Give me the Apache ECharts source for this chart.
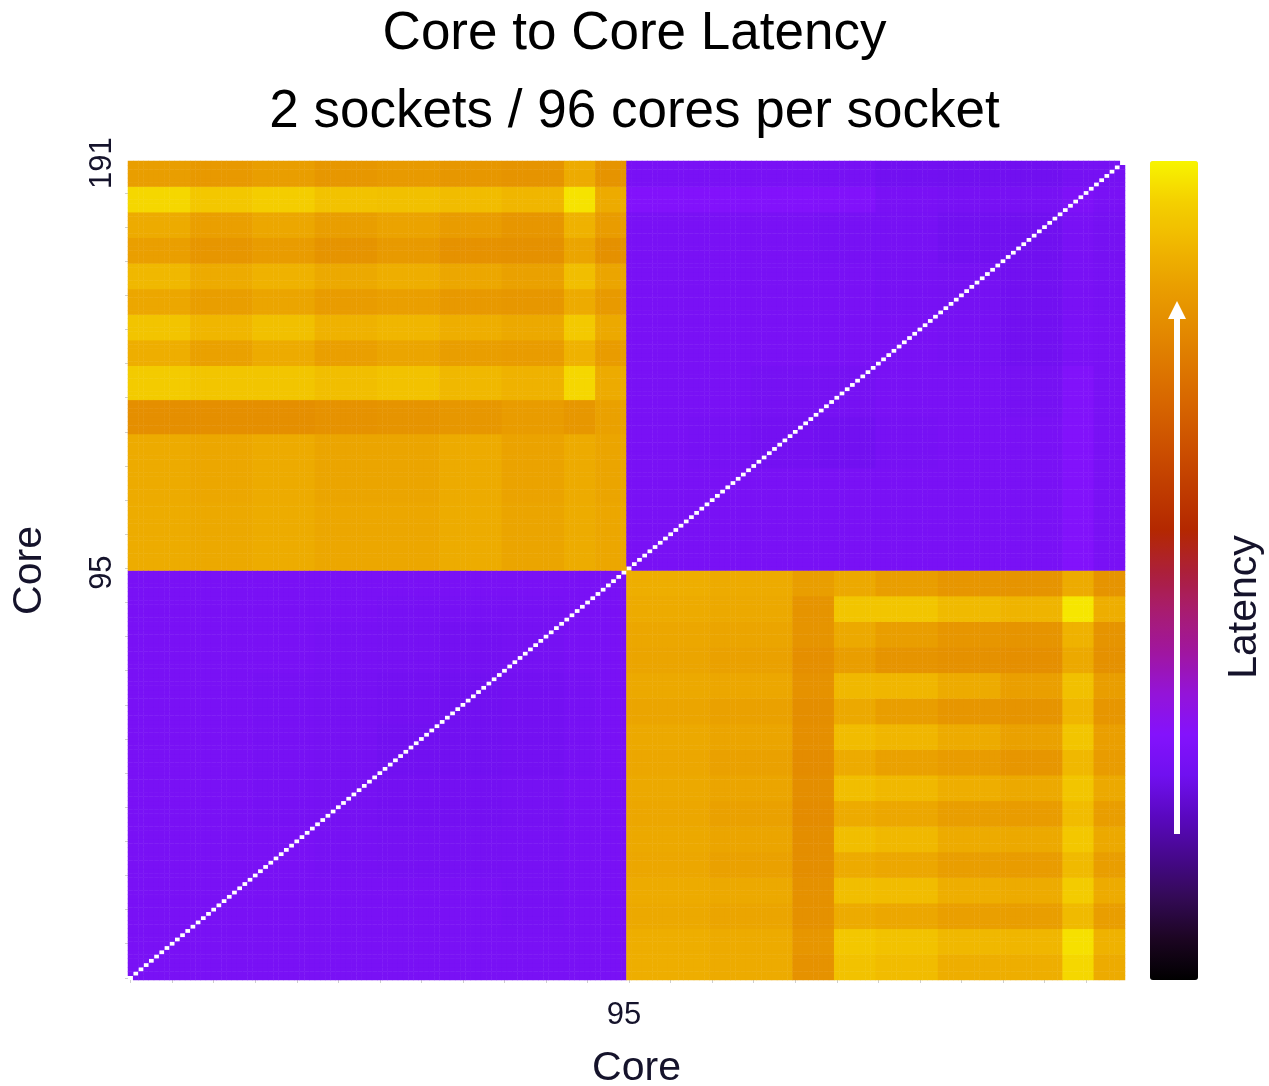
<!DOCTYPE html>
<html>
<head>
<meta charset="utf-8">
<script src="https://cdn.jsdelivr.net/npm/echarts@6/dist/echarts.min.js"></script>
<style>
  html, body { margin: 0; padding: 0; background: #ffffff; }
  #chart { width: 1269px; height: 1086px; }
</style>
</head>
<body>
<div id="chart"></div>
<script>
// ---------------- DATA ----------------
// Core indices 0..191 (socket 0 = 0..95, socket 1 = 96..191)
const coresPerSocket = 96;
const coreLabels = [];
for (let i = 0; i < 2 * coresPerSocket; i++) coreLabels.push(String(i));

const xTickLabels = ['95'];
const yTickLabels = ['95', '191'];

// Latency scale (arbitrary ns-like units) used by the colour bar
const latencyMin = 0;
const latencyMax = 250;

// Socket-local segment starts (blocks of cores with equal latency)
const s0SegStarts = [0, 6, 12, 18, 24, 30, 36, 42, 48, 54, 60, 66, 72, 78, 84, 90];     // socket 0
const s1SegStarts = [0, 16, 32, 40, 48, 54, 60, 66, 72, 78, 84, 90];                    // socket 1
const intraSegStarts = [0, 12, 24, 36, 48, 60, 72, 84, 90];                             // within-socket

// Cross-socket block latencies: row = socket-1 segment (y, upper-left quadrant), col = socket-0 segment (x)
const crossUL = [
  [219,219,217,217,219,219,216,216,216,216,219,219,215,215,219,216], // y 96-111
  [218,218,216,216,218,218,215,215,215,215,218,218,214,214,218,215], // y 112-127
  [202,202,202,202,202,202,204,204,205,205,207,207,210,210,207,213], // y 128-135
  [235,235,232,232,232,232,228,228,230,230,225,225,222,222,240,218], // y 136-143
  [220,220,213,213,218,218,212,212,215,215,211,211,210,210,222,210], // y 144-149
  [231,231,224,224,229,229,222,222,224,224,220,220,217,217,234,217], // y 150-155
  [216,216,211,211,215,215,210,210,212,212,208,208,207,207,218,209], // y 156-161
  [225,225,218,218,222,222,217,217,220,220,216,216,213,213,228,215], // y 162-167
  [212,212,206,206,210,210,205,205,209,209,204,204,203,203,215,203], // y 168-173
  [218,218,212,212,216,216,211,211,214,214,210,210,206,206,222,210], // y 174-179
  [240,240,233,233,236,236,230,230,229,229,227,227,224,224,244,218], // y 180-185
  [211,211,208,208,211,211,207,207,209,209,207,207,205,205,218,205]  // y 186-191
];

// Cross-socket block latencies: row = socket-0 segment (y, lower-right quadrant), col = socket-1 segment (x)
const crossLR = [
  [220,218,204,230,227,227,220,220,220,220,240,218], // y 0-5
  [220,218,206,233,230,230,225,225,224,224,243,222], // y 6-11
  [217,215,203,218,216,216,212,212,211,211,226,211], // y 12-17
  [218,217,203,228,227,227,220,220,218,218,235,218], // y 18-23
  [216,213,201,218,216,216,211,211,210,210,226,211], // y 24-29
  [217,215,201,228,225,225,218,218,217,217,233,217], // y 30-35
  [216,213,200,218,216,216,211,211,210,210,227,211], // y 36-41
  [217,215,201,228,225,225,220,220,217,217,232,217], // y 42-47
  [216,213,200,218,213,213,210,210,206,206,225,210], // y 48-53
  [217,215,202,227,224,224,218,218,213,213,232,212], // y 54-59
  [215,213,201,217,211,211,206,206,205,205,224,206], // y 60-65
  [217,216,204,225,224,224,218,218,212,212,229,211], // y 66-71
  [215,213,202,211,205,205,203,203,202,202,217,203], // y 72-77
  [216,215,205,217,211,211,206,206,205,205,222,205], // y 78-83
  [218,217,205,232,232,232,226,226,223,223,245,220], // y 84-89
  [220,218,211,217,211,211,206,206,205,205,218,205]  // y 90-95
];

// Within-socket block latencies (socket 0: lower-left; socket 1: upper-right), row = y segment, col = x segment
const intraLL = [
  [68,68,68,68,68,68,68,68,68],
  [68,68,68,68,68,68,67,68,68],
  [68,68,68,67,66,66,67,68,68],
  [68,68,67,66,65,65,66,68,68],
  [68,68,67,66,64,64,65,67,68],
  [68,68,67,66,65,64,65,67,68],
  [68,68,68,67,66,65,66,68,68],
  [68,68,68,68,67,67,67,68,68],
  [68,68,68,68,68,68,68,68,68]
];
const intraUR = [
  [68,68,68,68,68,68,68,74,68],
  [68,68,68,68,68,68,68,74,68],
  [68,67,65,64,67,68,68,74,68],
  [68,68,66,66,68,68,66,73,68],
  [68,68,68,68,68,67,64,69,68],
  [68,68,68,68,67,66,64,68,67],
  [68,68,68,67,67,64,63,68,66],
  [74,74,74,73,68,67,67,71,68],
  [68,68,68,67,64,63,63,66,66]
];

// Colour ramp of the colour bar (bottom -> top)
const rampColors = [
  '#000000','#1c0522','#330a55','#46088c','#5a08c0','#7010f0','#8412fc','#9414d8',
  '#a016a0','#a81c70','#ac2038','#b42800','#c03c00','#cc5000','#d66400','#de7800',
  '#e48c00','#eaa000','#f0b800','#f4d000','#f8f400'
];

// ---------------- BUILD ----------------
function segIdx(starts, local) {
  let k = 0;
  for (let i = 0; i < starts.length; i++) if (local >= starts[i]) k = i;
  return k;
}
const heatData = [];
for (let x = 0; x < 2 * coresPerSocket; x++) {
  for (let y = 0; y < 2 * coresPerSocket; y++) {
    if (x === y) { heatData.push([x, y, '-']); continue; }
    const sx = x < coresPerSocket ? 0 : 1, sy = y < coresPerSocket ? 0 : 1;
    const lx = x % coresPerSocket, ly = y % coresPerSocket;
    let v;
    if (sx === 0 && sy === 0) v = intraLL[segIdx(intraSegStarts, ly)][segIdx(intraSegStarts, lx)];
    else if (sx === 1 && sy === 1) v = intraUR[segIdx(intraSegStarts, ly)][segIdx(intraSegStarts, lx)];
    else if (sx === 0 && sy === 1) v = crossUL[segIdx(s1SegStarts, ly)][segIdx(s0SegStarts, lx)];
    else v = crossLR[segIdx(s0SegStarts, ly)][segIdx(s1SegStarts, lx)];
    heatData.push([x, y, v]);
  }
}

// ---------------- CHART ----------------
const FONT = '"Liberation Sans", Arial, Helvetica, sans-serif';
const TXT = '#15132b';
const chart = echarts.init(document.getElementById('chart'), null, { renderer: 'canvas' });

const option = {
  animation: false,
  backgroundColor: '#ffffff',
  title: [
    { text: 'Core to Core Latency', left: 'center', top: 8, padding: 0,
      textStyle: { fontFamily: FONT, fontSize: 53, fontWeight: 'normal', color: '#000000' } },
    { text: '2 sockets / 96 cores per socket', left: 'center', top: 86, padding: 0,
      textStyle: { fontFamily: FONT, fontSize: 53, fontWeight: 'normal', color: '#000000' } }
  ],
  grid: { left: 128, right: 144, top: 161, bottom: 106, containLabel: false, outerBoundsMode: 'none' },
  xAxis: {
    type: 'category',
    data: coreLabels,
    name: 'Core',
    nameLocation: 'middle',
    nameGap: 68,
    nameTextStyle: { fontFamily: FONT, fontSize: 41, color: TXT, padding: [0, 0, 0, 20] },
    axisLine: { show: false },
    splitArea: { show: false },
    axisTick: { show: true, alignWithLabel: true, length: 3, lineStyle: { color: '#cfcfcf', width: 1 },
      interval: (i) => i % 8 === 0 },
    axisLabel: { interval: (i, v) => xTickLabels.indexOf(v) >= 0, margin: 20,
      fontFamily: FONT, fontSize: 31, color: TXT }
  },
  yAxis: {
    type: 'category',
    data: coreLabels,
    name: 'Core',
    nameLocation: 'middle',
    nameGap: 78,
    nameTextStyle: { fontFamily: FONT, fontSize: 41, color: TXT },
    axisLine: { show: false },
    splitArea: { show: false },
    axisTick: { show: true, alignWithLabel: true, length: 3, lineStyle: { color: '#cfcfcf', width: 1 },
      interval: (i) => i % 8 === 0 },
    axisLabel: { interval: (i, v) => yTickLabels.indexOf(v) >= 0, margin: 10, rotate: 90,
      fontFamily: FONT, fontSize: 31, color: TXT }
  },
  visualMap: {
    type: 'continuous',
    min: latencyMin,
    max: latencyMax,
    calculable: false,
    realtime: false,
    orient: 'vertical',
    left: 1150,
    top: 161,
    padding: 0,
    itemWidth: 48,
    itemHeight: 819,
    text: ['', ''],
    showLabel: false,
    hoverLink: false,
    inRange: { color: rampColors },
    seriesIndex: 0
  },
  series: [{
    type: 'heatmap',
    data: heatData,
    progressive: 0,
    emphasis: { disabled: true },
    itemStyle: { borderWidth: 0 }
  }],
  graphic: [
    { type: 'rect', shape: { x: 1174, y: 316, width: 6, height: 518 }, style: { fill: '#ffffff' }, z: 100 },
    { type: 'polygon', shape: { points: [[1177, 301], [1168, 319], [1186, 319]] }, style: { fill: '#ffffff' }, z: 100 },
    { type: 'text', x: 1245, y: 607, rotation: Math.PI / 2, z: 100,
      style: { text: 'Latency', fontFamily: FONT, fontSize: 41, fill: TXT, align: 'center', verticalAlign: 'middle' } }
  ]
};
chart.setOption(option);
</script>
</body>
</html>
